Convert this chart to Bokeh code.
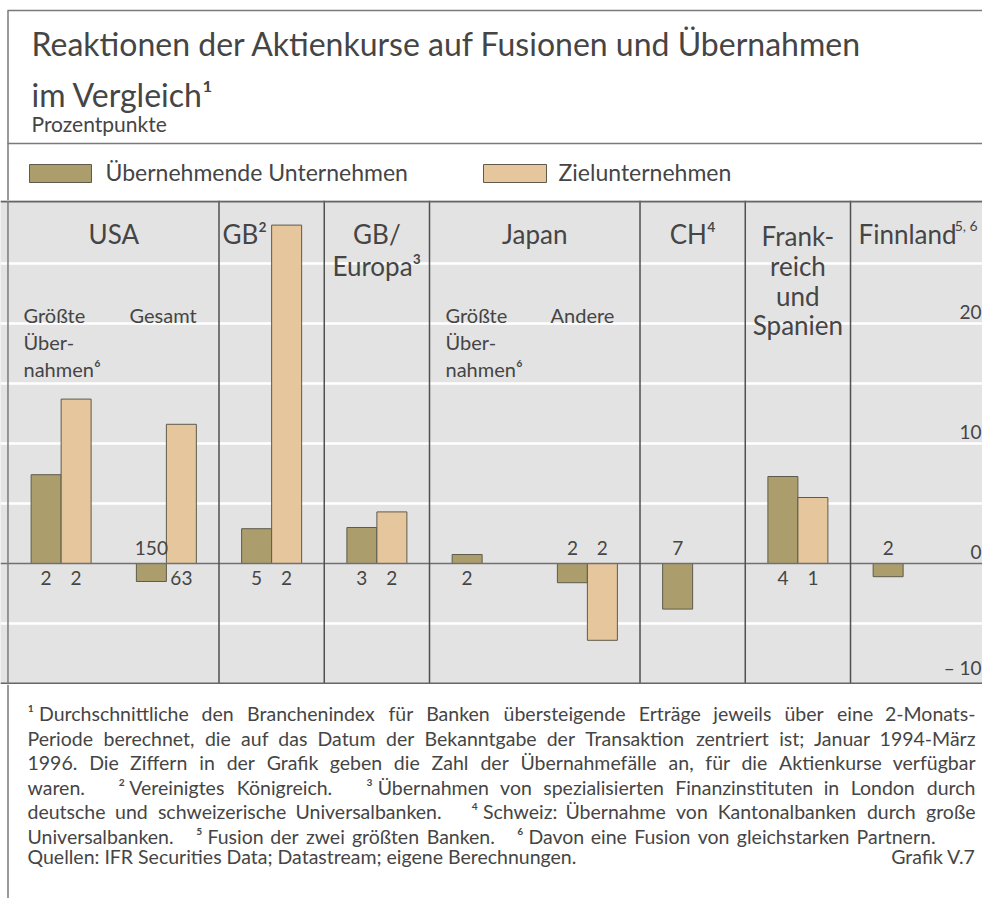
from bokeh.plotting import figure
from bokeh.models import Range1d, ColumnDataSource, Grid, FixedTicker, Span, LabelSet
from bokeh.layouts import column
from bokeh.core.properties import value
from bokeh.embed import file_html
from bokeh.resources import INLINE

# ---------------- data ----------------
categories = ["USA Größte Übernahmen", "USA Gesamt", "GB", "GB/Europa",
              "Japan Größte Übernahmen", "Japan Andere", "CH",
              "Frankreich und Spanien", "Finnland"]
acquirer = [7.4, -1.5, 2.9, 3.0, 0.75, -1.6, -3.8, 7.25, -1.1]
target = [13.7, 11.6, 28.2, 4.3, None, -6.4, None, 5.5, None]
n_acquirer = ["2", "150", "5", "3", "2", "2", "7", "4", "2"]
n_target = ["2", "63", "2", "2", "", "2", "", "1", ""]
y_ticks = [20, 10, 0, -10]
y_tick_labels = ["20", "10", "0", "\u2013 10"]
grid_ticks = [-5, 5, 10, 15, 20, 25]

FONT = "Lato"
TXT = "#454545"
OLIVE = "#ab9e6c"
TAN = "#e6c69c"
EDGE = "#5e5b4c"
GRAY_BG = "#e3e3e3"
LINE = "#7a7a7a"
W = 982


def make_fig(h, xr, yr, bg):
    return figure(width=W, height=h, x_range=xr, y_range=yr, output_backend="svg",
                  toolbar_location=None, x_axis_type=None, y_axis_type=None,
                  min_border=0, background_fill_color=bg, border_fill_color=bg,
                  outline_line_color=None)


def txt(p, x, y, s, size, align="left", baseline="alphabetic", color=TXT):
    p.text(x=x, y=y, text=s, text_font=value(FONT), text_font_size=size,
           text_color=color, text_align=align, text_baseline=baseline)


# approximate advance widths (em) used only to spread words for justified lines
CW = {'a': .49, 'b': .56, 'c': .46, 'd': .56, 'e': .52, 'f': .32, 'g': .50, 'h': .56,
      'i': .24, 'j': .24, 'k': .50, 'l': .24, 'm': .84, 'n': .56, 'o': .56, 'p': .56,
      'q': .56, 'r': .36, 's': .42, 't': .35, 'u': .56, 'v': .50, 'w': .76, 'x': .49,
      'y': .50, 'z': .45, 'ä': .49, 'ö': .56, 'ü': .56, 'ß': .58,
      'A': .68, 'B': .63, 'C': .66, 'D': .72, 'E': .54, 'F': .52, 'G': .70, 'H': .74,
      'I': .28, 'J': .38, 'K': .64, 'L': .47, 'M': .88, 'N': .74, 'O': .78, 'P': .58,
      'Q': .78, 'R': .60, 'S': .50, 'T': .57, 'U': .71, 'V': .66, 'W': 1.0, 'Z': .60,
      'Ü': .71, '.': .22, ',': .22, ';': .24, ':': .24, '-': .34, '\u00a0': .19}
for d in "0123456789":
    CW[d] = .58
for d in "\u00b9\u00b2\u00b3\u2074\u2075\u2076":
    CW[d] = .36


def tw(s, fs):
    return sum(CW.get(c, .55) for c in s) * fs * 1.01


def justify(line, x0, x1, fs):
    words, weights, wgt = [], [], 1
    for t in line.split(" "):
        if t == "":
            wgt += 1
            continue
        words.append(t)
        weights.append(wgt)
        wgt = 1
    weights[0] = 0
    total = sum(tw(w, fs) for w in words)
    unit = max((x1 - x0 - total) / sum(weights[1:]), 0.18 * fs)
    xs, x = [], x0
    for w, g in zip(words, weights):
        x += g * unit
        xs.append(x)
        x += tw(w, fs)
    return words, xs


# ---------------- header ----------------
H1 = 200
header = make_fig(H1, Range1d(0, W), Range1d(H1, 0), "white")
header.segment(x0=[7, 7.5, 7], y0=[10, 10, 143], x1=[W, 7.5, W], y1=[10, H1, 143],
               line_color=LINE, line_width=1.5)
txt(header, [31], [43], ["Reaktionen der Aktienkurse auf Fusionen und Übernahmen"], "32px")
txt(header, [31], [94], ["im Vergleich\u00b9"], "32px")
txt(header, [31], [123], ["Prozentpunkte"], "21px")
header.quad(left=[29, 483], right=[91, 546], top=[164, 164], bottom=[182, 182],
            fill_color=[OLIVE, TAN], line_color=EDGE, line_width=1)
txt(header, [105, 558], [171, 171], ["Übernehmende Unternehmen", "Zielunternehmen"], "23px")

# ---------------- chart ----------------
H2 = 484
chart = make_fig(H2, Range1d(-0.076, 9.254), Range1d(-10.083, 30.25), GRAY_BG)
chart.add_layout(Grid(dimension=1, ticker=FixedTicker(ticks=grid_ticks),
                      grid_line_color="white", grid_line_width=2.5))

slots = list(range(len(categories)))
bw = 0.285
dark = ColumnDataSource(dict(x=[s + 0.5 - bw / 2 for s in slots], top=acquirer))
lt_x = [s + 0.5 + bw / 2 for s, v in zip(slots, target) if v is not None]
lt_v = [v for v in target if v is not None]
light = ColumnDataSource(dict(x=lt_x, top=lt_v))
chart.vbar(x="x", top="top", bottom=0, width=bw, source=dark,
           fill_color=OLIVE, line_color=EDGE, line_width=1)
chart.vbar(x="x", top="top", bottom=0, width=bw, source=light,
           fill_color=TAN, line_color=EDGE, line_width=1)

# counts of cases: under the zero line for rises, above it for falls
cx, cy, ct = [], [], []
for s, v, n in zip(slots, acquirer, n_acquirer):
    cx.append(s + 0.5 - bw / 2); cy.append(-1.2 if v >= 0 else 1.33); ct.append(n)
for s, v, n in zip(slots, target, n_target):
    if v is None:
        continue
    cx.append(s + 0.5 + bw / 2); cy.append(-1.2 if v >= 0 else 1.33); ct.append(n)
txt(chart, cx, cy, ct, "19px", align="center")

chart.add_layout(Span(location=0, dimension="width", line_color="#707070", line_width=1.5))
for xv in [2, 3, 4, 6, 7, 8]:
    chart.add_layout(Span(location=xv, dimension="height", line_color="#505050", line_width=1.5))
chart.add_layout(Span(location=30.17, dimension="width", line_color="#666666", line_width=2))
chart.add_layout(Span(location=-10.0, dimension="width", line_color="#666666", line_width=2))
chart.add_layout(Span(location=-0.005, dimension="height", line_color=LINE, line_width=1.5))

# panel titles
txt(chart, [1.0, 3.5, 3.5, 5.0, 6.5, 7.5, 7.5, 7.5, 7.5],
    [27.42, 27.42, 24.83, 27.42, 27.42, 27.33, 24.83, 22.33, 19.85],
    ["USA", "GB/", "Europa\u00b3", "Japan", "CH\u2074", "Frank-", "reich", "und", "Spanien"],
    "26px", align="center")
txt(chart, [2.033, 8.076], [27.42, 27.42], ["GB\u00b2", "Finnland"], "26px")
txt(chart, [8.99], [28.17], ["5, 6"], "14px")

# sub labels
txt(chart, [0.1425, 0.1425, 0.1425, 1.15, 4.152, 4.152, 4.152, 5.15],
    [20.67, 18.42, 16.17, 20.67, 20.67, 18.42, 16.17, 20.67],
    ["Größte", "Über-", "nahmen\u2076", "Gesamt", "Größte", "Über-", "nahmen\u2076", "Andere"],
    "20px")

# right-hand scale at the edge of the picture
axis_src = ColumnDataSource(dict(x=[9.245] * len(y_ticks), y=y_ticks, t=y_tick_labels))
chart.add_layout(LabelSet(x="x", y="y", text="t", source=axis_src, text_align="right",
                          y_offset=5, text_font=value(FONT), text_font_size="19px",
                          text_color=TXT))

# ---------------- footer ----------------
H3 = 214
FS = 19.5
footer = make_fig(H3, Range1d(0, W), Range1d(H3, 0), "white")
footer.segment(x0=[7.5], y0=[0], x1=[7.5], y1=[H3], line_color=LINE, line_width=1.5)
foot_lines = [
    "\u00b9\u00a0Durchschnittliche den Branchenindex für Banken übersteigende Erträge jeweils über eine 2-Monats-",
    "Periode berechnet, die auf das Datum der Bekanntgabe der Transaktion zentriert ist; Januar 1994-März",
    "1996. Die Ziffern in der Grafik geben die Zahl der Übernahmefälle an, für die Aktienkurse verfügbar",
    "waren.   \u00b2\u00a0Vereinigtes Königreich.   \u00b3\u00a0Übernahmen von spezialisierten Finanzinstituten in London durch",
    "deutsche und schweizerische Universalbanken.   \u2074\u00a0Schweiz: Übernahme von Kantonalbanken durch große",
    "Universalbanken.   \u2075\u00a0Fusion der zwei größten Banken.   \u2076\u00a0Davon eine Fusion von gleichstarken Partnern.",
]
foot_right = [975, 975, 975, 975, 975, 935]
foot_y = [29, 53.5, 78, 102.5, 127, 151.5]
lw, lx, ly, rw, rx, ry = [], [], [], [], [], []
for line, xr, yv in zip(foot_lines, foot_right, foot_y):
    words, xs = justify(line, 27, xr, FS)
    lw += words[:-1]; lx += xs[:-1]; ly += [yv] * (len(words) - 1)
    rw.append(words[-1]); rx.append(xr); ry.append(yv)
txt(footer, lx, ly, lw, f"{FS}px")
txt(footer, rx, ry, rw, f"{FS}px", align="right")
txt(footer, [27], [172], ["Quellen: IFR Securities Data; Datastream; eigene Berechnungen."], f"{FS}px")
txt(footer, [975], [172], ["Grafik V.7"], f"{FS}px", align="right")

layout = column(header, chart, footer, spacing=0)
open("out.html", "w").write(file_html(layout, INLINE))
